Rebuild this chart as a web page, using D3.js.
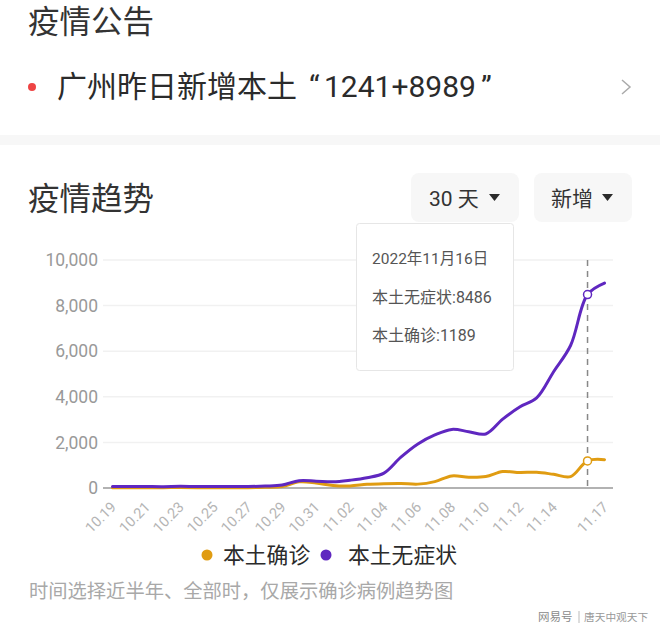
<!DOCTYPE html>
<html>
<head>
<meta charset="utf-8">
<script src="https://cdn.jsdelivr.net/npm/d3@7"></script>
<style>
  html, body { margin: 0; padding: 0; background: #fff; }
  svg { display: block; }
  text { font-family: Roboto, "Noto Sans CJK SC", sans-serif; }
</style>
</head>
<body>
<div id="chart"></div>
<script>
var dates = ["10.19","10.20","10.21","10.22","10.23","10.24","10.25","10.26","10.27","10.28",
  "10.29","10.30","10.31","11.01","11.02","11.03","11.04","11.05","11.06","11.07",
  "11.08","11.09","11.10","11.11","11.12","11.13","11.14","11.15","11.16","11.17"];
var tickDates = ["10.19","10.21","10.23","10.25","10.27","10.29","10.31","11.02","11.04",
  "11.06","11.08","11.10","11.12","11.14","11.17"];
var confirmed = [15,15,15,15,20,15,15,15,15,30,
  60,270,220,110,90,160,190,200,170,280,
  530,470,500,720,680,690,600,500,1189,1241];
var asymptomatic = [70,70,65,60,75,65,70,65,65,85,
  130,320,300,270,340,450,650,1350,1930,2325,
  2570,2470,2370,3020,3550,3950,5100,6250,8486,8989];
var yTicks = [0,2000,4000,6000,8000,10000];
var seriesNames = ["本土确诊","本土无症状"];
var seriesColors = ["#e09c12","#5f27c0"];

var svg = d3.select("#chart").append("svg").attr("width", 660).attr("height", 629);

var x = d3.scalePoint().domain(dates).range([112.5, 604.5]);
var y = d3.scaleLinear().domain([0, 10000]).range([488, 260]);

function label(sel, px, py, str, size, color, anchor) {
  return sel.append("text")
    .attr("x", px).attr("y", py)
    .attr("font-size", size)
    .attr("fill", color)
    .attr("text-anchor", anchor || "start")
    .text(str);
}

// Top notice block
label(svg, 28, 33, "疫情公告", 31.5, "#333");
svg.append("circle").attr("cx", 32).attr("cy", 87).attr("r", 4).attr("fill", "#ee4444");
label(svg, 57, 97, "广州昨日新增本土", 30, "#2b2b2b");
label(svg, 309, 97, "“", 30, "#2b2b2b");
label(svg, 324, 97, "1241+8989", 30, "#2b2b2b");
label(svg, 481, 97, "”", 30, "#2b2b2b");
svg.append("path").attr("d", "M622 80L630 87L622 94")
  .attr("fill", "none").attr("stroke", "#aaa").attr("stroke-width", 1.5);
svg.append("rect").attr("x", 0).attr("y", 135).attr("width", 660).attr("height", 10).attr("fill", "#f7f7f7");

// Trend header and the two selectors
label(svg, 28, 210, "疫情趋势", 31.5, "#333");
[[411, 108, "30 天", 429], [534, 98, "新增", 551]].forEach(function (b) {
  svg.append("rect").attr("x", b[0]).attr("y", 173).attr("width", b[1]).attr("height", 49)
    .attr("rx", 8).attr("fill", "#f7f7f7");
  label(svg, b[3], 206, b[2], 21, "#333");
  svg.append("path").attr("d", "M" + (b[0] + b[1] - 30) + " 194h11l-5.5 7z").attr("fill", "#2b2b2b");
});

// Y axis
var yAxis = d3.axisLeft(y).tickValues(yTicks).tickFormat(d3.format(",")).tickSize(0).tickPadding(5);
var yG = svg.append("g").attr("transform", "translate(103,0)").call(yAxis);
yG.select(".domain").remove();
yG.selectAll("text").attr("font-size", 17.5).attr("fill", "#999").style("font-family", "Roboto");

svg.append("g").selectAll("line").data(yTicks.slice(1)).enter().append("line")
  .attr("x1", 103).attr("x2", 613)
  .attr("y1", function (d) { return y(d); }).attr("y2", function (d) { return y(d); })
  .attr("stroke", "#f1f1f1").attr("stroke-width", 1.5);

// X axis
var xAxis = d3.axisBottom(x).tickValues(tickDates).tickSize(0).tickPadding(0);
var xG = svg.append("g").attr("transform", "translate(0,488)").call(xAxis);
xG.select(".domain").remove();
xG.selectAll("text")
  .attr("font-size", 14.5).attr("fill", "#b5b5b5")
  .attr("text-anchor", "end")
  .attr("dy", 0).attr("y", 0)
  .attr("transform", "translate(4,20) rotate(-45)");
svg.append("line").attr("x1", 103).attr("x2", 613).attr("y1", 488).attr("y2", 488)
  .attr("stroke", "#999").attr("stroke-width", 1.5);

// Hover guide
var hoverDate = "11.16";
svg.append("line").attr("x1", x(hoverDate)).attr("x2", x(hoverDate)).attr("y1", 260).attr("y2", 488)
  .attr("stroke", "#888").attr("stroke-width", 1.5).attr("stroke-dasharray", "6 5");

// Lines
var line = d3.line()
  .x(function (d, i) { return x(dates[i]); })
  .y(function (d) { return y(d); })
  .curve(d3.curveCatmullRom.alpha(0.5));

[confirmed, asymptomatic].forEach(function (vals, k) {
  svg.append("path").attr("d", line(vals))
    .attr("fill", "none").attr("stroke", seriesColors[k]).attr("stroke-width", 3)
    .attr("stroke-linecap", "round");
  svg.append("circle")
    .attr("cx", x(hoverDate)).attr("cy", y(vals[dates.indexOf(hoverDate)])).attr("r", 4)
    .attr("fill", "#fff").attr("stroke", seriesColors[k]).attr("stroke-width", 1.5);
});

// Tooltip
svg.append("rect").attr("x", 356.5).attr("y", 223.5).attr("width", 157).attr("height", 147)
  .attr("rx", 3).attr("fill", "#fff").attr("stroke", "#e6e6e6").attr("stroke-width", 1);
label(svg, 372, 264, "2022年11月16日", 15.5, "#555");
label(svg, 372, 303, "本土无症状:8486", 16, "#555");
label(svg, 372, 341, "本土确诊:1189", 16, "#555");

// Legend
[[207, 223], [326, 348]].forEach(function (p, k) {
  svg.append("circle").attr("cx", p[0]).attr("cy", 555).attr("r", 5.5).attr("fill", seriesColors[k]);
  label(svg, p[1], 563, seriesNames[k], 21.8, "#2b2b2b");
});

// Footer
label(svg, 29, 598, "时间选择近半年、全部时，仅展示确诊病例趋势图", 19.3, "#a8a8a8");
label(svg, 538, 621, "网易号", 11.5, "#8a8a8a");
svg.append("line").attr("x1", 579).attr("x2", 579).attr("y1", 611).attr("y2", 623).attr("stroke", "#bbb");
label(svg, 584, 621, "唐天中观天下", 10.7, "#999");
</script>
</body>
</html>
